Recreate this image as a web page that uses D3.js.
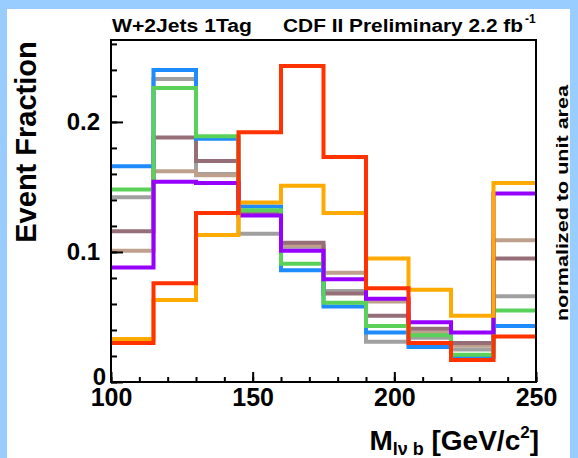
<!DOCTYPE html>
<meta charset="utf-8">
<script src="https://d3js.org/d3.v7.min.js"></script>
<style>
  body { margin: 0; background: #99ccff; }
  text { font-family: "Liberation Sans", Arial, sans-serif; font-weight: bold; }
</style>
<div id="chart"></div>
<script>

// bin edges (GeV/c^2), 10 bins of 15
var binEdges = [100, 115, 130, 145, 160, 175, 190, 205, 220, 235, 250];

// event fractions per bin, one array per sample
var grayVals   = [0.142, 0.233, 0.160, 0.114, 0.104, 0.070, 0.031, 0.034, 0.025, 0.066];
var tanVals    = [0.101, 0.162, 0.159, 0.131, 0.105, 0.084, 0.062, 0.038, 0.028, 0.109];
var mauveVals  = [0.116, 0.188, 0.170, 0.129, 0.107, 0.068, 0.051, 0.041, 0.030, 0.095];
var blueVals   = [0.166, 0.240, 0.187, 0.135, 0.086, 0.058, 0.038, 0.027, 0.019, 0.043];
var greenVals  = [0.148, 0.226, 0.189, 0.132, 0.091, 0.061, 0.043, 0.036, 0.021, 0.055];
var purpleVals = [0.088, 0.154, 0.153, 0.128, 0.101, 0.079, 0.064, 0.046, 0.038, 0.145];
var orangeVals = [0.033, 0.063, 0.113, 0.138, 0.151, 0.130, 0.095, 0.071, 0.051, 0.153];
var redVals    = [0.030, 0.076, 0.130, 0.192, 0.243, 0.173, 0.072, 0.030, 0.017, 0.035];

var seriesList = [
  {vals: grayVals,   color: "#a0a0a0"},
  {vals: tanVals,    color: "#bea08c"},
  {vals: mauveVals,  color: "#966e78"},
  {vals: blueVals,   color: "#1e8cff"},
  {vals: greenVals,  color: "#5ad25a"},
  {vals: purpleVals, color: "#9600ff"},
  {vals: orangeVals, color: "#ffaa00"},
  {vals: redVals,    color: "#ff3200"}
];

var W = 578, H = 458;
var svg = d3.select("#chart").append("svg")
  .attr("width", W).attr("height", H);

// white pad inside the blue border
svg.append("rect")
  .attr("x", 7).attr("y", 9)
  .attr("width", W - 15).attr("height", H - 9)
  .attr("fill", "white");

var x = d3.scaleLinear().domain([100, 250]).range([111, 536]);
var y = d3.scaleLinear().domain([0, 0.263]).range([382, 40]);

// histograms
var line = d3.line();
seriesList.forEach(function(s) {
  var pts = [];
  s.vals.forEach(function(v, i) {
    pts.push([x(binEdges[i]), y(v)]);
    pts.push([x(binEdges[i + 1]), y(v)]);
  });
  svg.append("path")
    .attr("d", line(pts))
    .attr("fill", "none")
    .attr("stroke", s.color)
    .attr("stroke-width", 4);
});

// frame
svg.append("rect")
  .attr("x", 111).attr("y", 40)
  .attr("width", 425).attr("height", 342)
  .attr("fill", "none")
  .attr("stroke", "black")
  .attr("stroke-width", 2);

// x axis: minor then major
svg.append("g")
  .attr("transform", "translate(0,382)")
  .call(d3.axisBottom(x).tickValues(d3.range(100, 251, 10)).tickSize(-5).tickFormat(""))
  .call(function(g) { g.select(".domain").remove(); });
svg.append("g")
  .attr("transform", "translate(0,382)")
  .call(d3.axisBottom(x).tickValues([100, 150, 200, 250]).tickSize(-10).tickPadding(6))
  .call(function(g) {
    g.select(".domain").remove();
    g.selectAll("text").attr("font-size", 25).attr("fill", "black")
      .attr("font-family", "Liberation Sans, Arial, sans-serif").attr("font-weight", "bold");
  });

// y axis
svg.append("g")
  .attr("transform", "translate(111,0)")
  .call(d3.axisLeft(y).tickValues(d3.range(0, 0.261, 0.02)).tickSize(-6).tickFormat(""))
  .call(function(g) { g.select(".domain").remove(); });
svg.append("g")
  .attr("transform", "translate(111,0)")
  .call(d3.axisLeft(y).tickValues([0, 0.1, 0.2]).tickSize(-12).tickPadding(11)
    .tickFormat(function(d) { return d === 0 ? "0" : d3.format(".1f")(d); }))
  .call(function(g) {
    g.select(".domain").remove();
    g.selectAll("text").attr("font-size", 24).attr("fill", "black")
      .attr("font-family", "Liberation Sans, Arial, sans-serif").attr("font-weight", "bold");
    g.selectAll(".tick").filter(function(d) { return d === 0; })
      .select("text").attr("x", -5).attr("dy", "0.1em");
  });
svg.selectAll(".tick line").attr("stroke-width", 2);

// titles
svg.append("text")
  .attr("x", 112).attr("y", 32)
  .attr("font-size", 18)
  .attr("textLength", 140).attr("lengthAdjust", "spacingAndGlyphs")
  .text("W+2Jets 1Tag");
svg.append("text")
  .attr("x", 283).attr("y", 32)
  .attr("font-size", 18)
  .attr("textLength", 240).attr("lengthAdjust", "spacingAndGlyphs")
  .text("CDF II Preliminary 2.2 fb");
svg.append("text")
  .attr("x", 525).attr("y", 23)
  .attr("font-size", 12)
  .text("-1");

svg.append("text")
  .attr("transform", "translate(36,142) rotate(-90)")
  .attr("text-anchor", "middle")
  .attr("font-size", 29)
  .text("Event Fraction");

svg.append("text")
  .attr("transform", "translate(568,203) rotate(-90)")
  .attr("text-anchor", "middle")
  .attr("font-size", 17)
  .attr("textLength", 236).attr("lengthAdjust", "spacingAndGlyphs")
  .text("normalized to unit area");

var xl = svg.append("text")
  .attr("x", 539).attr("y", 450)
  .attr("text-anchor", "end")
  .attr("font-size", 28);
xl.append("tspan").text("M");
xl.append("tspan").attr("font-size", 18).attr("dy", 5).text("lν b");
xl.append("tspan").attr("dy", -5).text(" [GeV/c");
xl.append("tspan").attr("font-size", 17).attr("dy", -12).text("2");
xl.append("tspan").attr("dy", 12).text("]");

</script>
